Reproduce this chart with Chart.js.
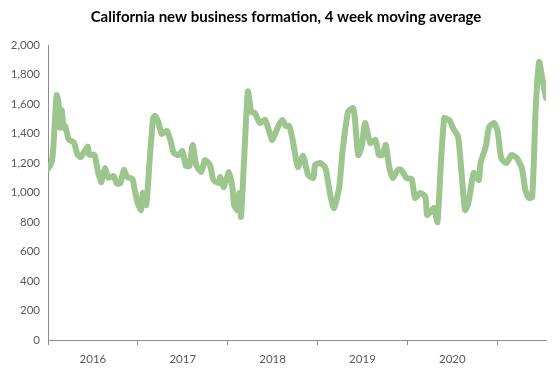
<!DOCTYPE html>
<html>
<head>
<meta charset="utf-8">
<script src="https://cdn.jsdelivr.net/npm/chart.js@4/dist/chart.umd.min.js"></script>
<style>
  html, body { margin: 0; padding: 0; background: #fff; }
  #wrap { width: 560px; height: 370px; }
</style>
</head>
<body>
<div id="wrap"><canvas id="c"></canvas></div>
<script>
// weeks since start of 2016
const weeks = [0, 2, 3, 5, 6, 7, 8, 9, 10, 12, 15, 17, 19, 23, 24, 27, 29, 31, 33, 35, 38, 40, 42, 44, 46, 49, 50, 52, 54, 55, 57,
  59, 61, 62, 64, 66, 69, 71, 73, 76, 78, 80, 82, 84, 86, 89, 91, 94, 96, 99, 100, 102, 105, 107, 108, 110, 111, 112,
  114, 116, 118, 120, 123, 126, 130, 131, 134, 136, 138, 140, 142, 145, 148, 151, 154, 155, 158, 161, 164, 166, 169,
  171, 174, 175, 177, 178, 180, 182, 184, 187, 190, 192, 194, 196, 198, 200, 203, 205, 208, 211, 213, 216, 219, 220, 222, 224, 226,
  228, 230, 232, 233, 235, 238, 240, 242, 244, 247, 250, 251, 254, 256, 259, 261, 263, 266, 269, 272, 275, 277, 279, 281,
  283, 285, 287, 289];
const formations = [1160, 1200, 1290, 1660, 1620, 1440, 1560, 1440, 1450, 1360, 1340, 1260, 1240, 1310, 1255, 1255, 1140, 1070, 1165, 1100, 1112, 1060, 1064, 1153, 1105, 1092, 1037, 929, 881, 997, 915,
  1220, 1505, 1519, 1478, 1397, 1417, 1356, 1268, 1254, 1281, 1180, 1180, 1322, 1186, 1139, 1220, 1186, 1085, 1064, 1105, 1037, 1139, 1037, 915, 881, 997, 834,
  1268, 1685, 1546, 1539, 1471, 1492, 1356, 1376, 1458, 1492, 1451, 1451, 1356, 1173, 1248, 1119, 1098, 1186, 1200, 1166, 970, 895, 1037,
  1288, 1546, 1559, 1573, 1512, 1254, 1309, 1471, 1336, 1356, 1254, 1254, 1322, 1173, 1098, 1153, 1153, 1098, 1092, 963, 997, 970, 848, 868, 895, 800,
  1200, 1505, 1495, 1492, 1437, 1376, 1132, 881, 929, 1132, 1085, 1200, 1309, 1444, 1471, 1410, 1234, 1200, 1254, 1234, 1166, 1017, 963, 970,
  1559, 1885, 1763, 1641];
const years = ['2016', '2017', '2018', '2019', '2020'];
const WEEKS_PER_YEAR = 52.14;

const FONT = 'Lato, "Open Sans", sans-serif';
const AXIS_GREY = '#8c8c8c';
const LABEL_GREY = '#595959';

// nudge the title block right so it sits where the original one does
const shiftTitle = {
  id: 'shiftTitle',
  afterLayout(chart) { if (chart.titleBlock) chart.titleBlock.left += 26; }
};

new Chart(document.getElementById('c'), {
  type: 'line',
  data: {
    datasets: [{
      data: weeks.map((w, i) => ({ x: w, y: formations[i] })),
      borderColor: '#9cc68e',
      borderWidth: 6,
      borderJoinStyle: 'round',
      borderCapStyle: 'round',
      pointRadius: 0,
      tension: 0.2,
      fill: false
    }]
  },
  plugins: [shiftTitle],
  options: {
    responsive: true, maintainAspectRatio: false, animation: false,
    layout: { padding: { left: 0, right: 14, top: 0, bottom: 0 } },
    plugins: {
      legend: { display: false },
      tooltip: { enabled: false },
      title: {
        display: true,
        text: 'California new business formation, 4 week moving average',
        color: '#000',
        font: { family: FONT, size: 15, weight: 'bold' },
        padding: { top: 8, bottom: 19 }
      }
    },
    scales: {
      x: {
        type: 'linear', min: 0, max: 289,
        afterBuildTicks: s => {
          const t = [];
          for (let k = 0; k <= years.length * 2; k++) t.push({ value: k * WEEKS_PER_YEAR / 2 });
          s.ticks = t;
        },
        afterFit: s => { s.height = 30; },
        border: { color: AXIS_GREY, width: 1 },
        grid: {
          drawOnChartArea: false, tickLength: 5,
          tickColor: ctx => ctx.index % 2 === 0 ? AXIS_GREY : 'rgba(0,0,0,0)'
        },
        ticks: {
          autoSkip: false, maxRotation: 0, padding: 7, color: LABEL_GREY,
          font: { family: FONT, size: 11.5 },
          callback: (v, i) => i % 2 ? years[(i - 1) / 2] : ''
        }
      },
      y: {
        min: 0, max: 2000,
        afterFit: s => { s.width = 48; },
        border: { color: AXIS_GREY, width: 1 },
        grid: { drawOnChartArea: false, drawTicks: false },
        ticks: {
          stepSize: 200, padding: 8, color: LABEL_GREY,
          font: { family: FONT, size: 11.5 },
          callback: v => v.toLocaleString('en-US')
        }
      }
    }
  }
});
</script>
</body>
</html>
